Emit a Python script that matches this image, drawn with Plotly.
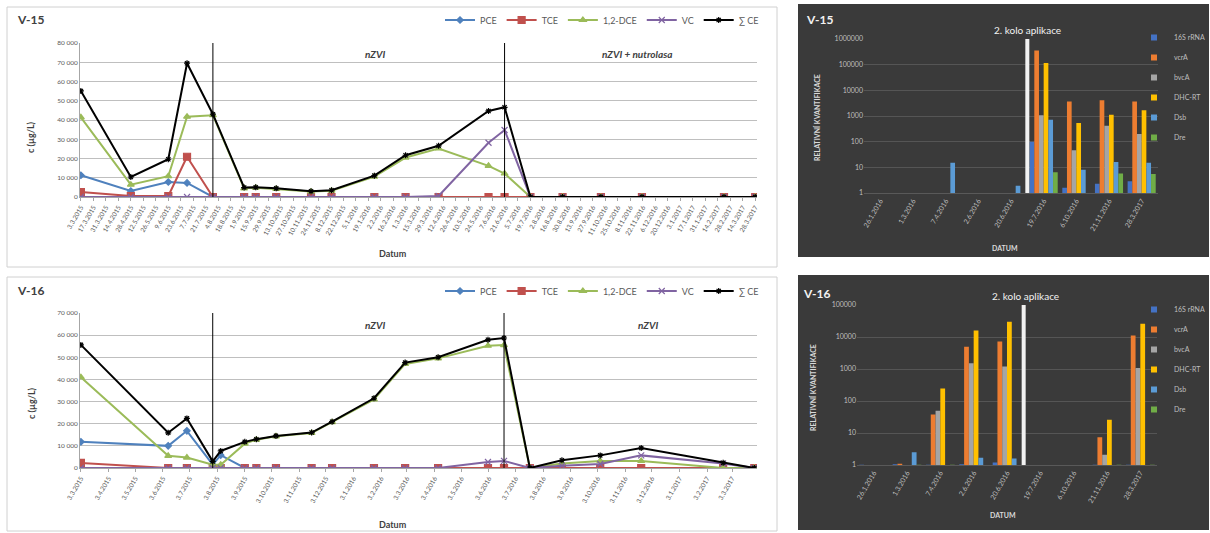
import pandas as pd
import plotly.graph_objects as go

W, H = 1210, 533

# ---------------- DATA ----------------
series_names = ["PCE", "TCE", "1,2-DCE", "VC", "∑ CE"]

dates_v15 = ["3.3.2015", "28.4.2015", "9.6.2015", "30.6.2015", "29.7.2015", "2.9.2015", "15.9.2015",
             "8.10.2015", "16.11.2015", "9.12.2015", "26.1.2016", "1.3.2016", "7.4.2016", "2.6.2016",
             "20.6.2016", "19.7.2016", "24.8.2016", "6.10.2016", "21.11.2016", "21.2.2017", "28.3.2017"]
pce_v15 = [11300, 3100, 7800, 7300, 0, 0, 0, 0, 0, 0, 0, 0, 0, 0, 0, 0, 0, 0, 0, 0, 0]
tce_v15 = [2600, 500, 500, 20900, 0, 0, 0, 0, 0, 0, 0, 0, 0, 0, 0, 0, 0, 0, 0, 0, 0]
dce_v15 = [41400, 6400, 10800, 41700, 42500, 4500, 4800, 4200, 2800, 3300, 10600, 20500, 25200, 16200,
           12200, 0, 0, 0, 0, 0, 0]
vc_v15 = [0, 0, 0, 0, 0, 0, 0, 0, 0, 0, 0, 0, 500, 28200, 34800, 0, 0, 0, 0, 0, 0]
sum_v15 = [55100, 10400, 19600, 69500, 43000, 4900, 5000, 4500, 3000, 3500, 11100, 21700, 26600, 44700,
           46600, 0, 0, 0, 0, 0, 0]

dates_v16 = ["3.3.2015", "9.6.2015", "30.6.2015", "29.7.2015", "7.8.2015", "3.9.2015", "16.9.2015",
             "8.10.2015", "17.11.2015", "10.12.2015", "26.1.2016", "1.3.2016", "7.4.2016", "2.6.2016",
             "20.6.2016", "19.7.2016", "24.8.2016", "6.10.2016", "21.11.2016", "21.2.2017", "28.3.2017"]
pce_v16 = [11800, 10000, 16800, 1500, 5800, 0, 0, 0, 0, 0, 0, 0, 0, 0, 0, 0, 0, 0, 0, 0, 0]
tce_v16 = [2300, 0, 0, 0, 0, 0, 0, 0, 0, 0, 0, 0, 0, 0, 0, 0, 0, 0, 0, 0, 0]
dce_v16 = [41000, 5500, 4700, 1500, 1500, 11000, 12800, 14300, 15800, 20700, 31000, 47000, 49500, 55200,
           55500, 0, 2000, 3200, 3200, 0, 0]
vc_v16 = [0, 0, 0, 0, 0, 0, 0, 0, 0, 0, 0, 0, 0, 2700, 3200, 0, 1000, 1800, 5700, 2000, 0]
sum_v16 = [55600, 15900, 22400, 3000, 7700, 11800, 13000, 14500, 16000, 20900, 31500, 47600, 50000, 57900,
           58700, 0, 3500, 5700, 9000, 2400, 0]

app_dates_v15 = ["29.7.2015", "20.6.2016"]
app_dates_v16 = ["29.7.2015", "20.6.2016"]

qpcr_dates = ["26.1.2016", "1.3.2016", "7.4.2016", "2.6.2016", "20.6.2016", "19.7.2016", "6.10.2016",
              "21.11.2016", "28.3.2017"]
gene_names = ["16S rRNA", "vcrA", "bvcA", "DHC-RT", "Dsb", "Dre"]

q15_16s = [None, None, None, None, None, 100, 1.6, 2.3, 2.9]
q15_vcra = [None, None, None, None, None, 360000, 3700, 4100, 3700]
q15_bvca = [None, None, None, None, None, 1070, 46, 420, 200]
q15_dhc = [None, None, None, None, None, 116000, 530, 1130, 1660]
q15_dsb = [None, None, 15, None, 1.9, 720, 8.1, 16, 15]
q15_dre = [None, None, None, None, None, 6.4, None, 5.7, 5.5]

q16_16s = [1.02, 1.05, 1.02, 1.05, 1.2, None, None, 1.02, 1.02]
q16_vcra = [None, 1.1, 38, 5000, 7200, None, None, 7.4, 11200]
q16_bvca = [None, None, 50, 1500, 1200, None, None, 2.1, 1070]
q16_dhc = [None, None, 245, 16000, 30000, None, None, 26, 26000]
q16_dsb = [None, 2.5, None, 1.7, 1.6, None, None, None, None]
q16_dre = [None, 1.02, 1.02, None, None, None, None, 1.02, 1.02]

# ---------------- STYLE ----------------
FONT = "Lato"
line_colors = ["#4F81BD", "#C0504D", "#9BBB59", "#8064A2", "#000000"]
line_symbols = ["diamond", "square", "triangle-up", "x-thin-open", "asterisk-open"]
line_msize = [5, 7, 6, 6, 5]
bar_colors = ["#4472C4", "#ED7D31", "#A5A5A5", "#FFC000", "#5B9BD5", "#70AD47"]


def px(x):
    return x / W


def py(y):
    return 1 - y / H


def to_dt(lst):
    return pd.to_datetime(lst, format="%d.%m.%Y")


fig = go.Figure()

# line charts
for (dates, cols, xa, ya, lg) in [
    (dates_v15, [pce_v15, tce_v15, dce_v15, vc_v15, sum_v15], "x", "y", "legend"),
    (dates_v16, [pce_v16, tce_v16, dce_v16, vc_v16, sum_v16], "x2", "y2", "legend2"),
]:
    d = to_dt(dates)
    for i, name in enumerate(series_names):
        fig.add_trace(go.Scatter(
            x=d, y=cols[i], name=name, mode="lines+markers",
            line=dict(color=line_colors[i], width=2),
            marker=dict(symbol=line_symbols[i], size=line_msize[i], color=line_colors[i],
                        line=dict(color=line_colors[i], width=1.2)),
            xaxis=xa, yaxis=ya, legend=lg))

# bar charts (legend shown through small square markers like the original)
for (vals, xa, ya, lg) in [
    ([q15_16s, q15_vcra, q15_bvca, q15_dhc, q15_dsb, q15_dre], "x3", "y3", "legend3"),
    ([q16_16s, q16_vcra, q16_bvca, q16_dhc, q16_dsb, q16_dre], "x4", "y4", "legend4"),
]:
    for i, name in enumerate(gene_names):
        fig.add_trace(go.Bar(
            x=qpcr_dates, y=vals[i], name=name, marker_color=bar_colors[i],
            marker_line_width=0, xaxis=xa, yaxis=ya, showlegend=False))
    for i, name in enumerate(gene_names):
        fig.add_trace(go.Scatter(
            x=[None], y=[None], name=name, mode="markers",
            marker=dict(symbol="square", size=6, color=bar_colors[i]),
            xaxis=xa, yaxis=ya, legend=lg, legendgroup=name + lg))

shapes = []
# panel backgrounds
shapes.append(dict(type="rect", xref="paper", yref="paper", x0=px(7), x1=px(777), y0=py(267), y1=py(7),
                   line=dict(color="#D0D0D0", width=1), fillcolor="white", layer="below"))
shapes.append(dict(type="rect", xref="paper", yref="paper", x0=px(7), x1=px(777), y0=py(531), y1=py(277),
                   line=dict(color="#D0D0D0", width=1), fillcolor="white", layer="below"))
shapes.append(dict(type="rect", xref="paper", yref="paper", x0=px(798), x1=px(1209), y0=py(257), y1=py(4),
                   line=dict(width=0), fillcolor="#3A3A3A", layer="below"))
shapes.append(dict(type="rect", xref="paper", yref="paper", x0=px(798), x1=px(1209), y0=py(530), y1=py(275),
                   line=dict(width=0), fillcolor="#3A3A3A", layer="below"))

# application lines
for dstr in app_dates_v15:
    t = to_dt([dstr])[0]
    shapes.append(dict(type="line", xref="x", yref="y domain", x0=t, x1=t,
                       y0=0, y1=1, line=dict(color="black", width=1)))
for dstr in app_dates_v16:
    t = to_dt([dstr])[0]
    shapes.append(dict(type="line", xref="x2", yref="y2 domain", x0=t, x1=t,
                       y0=0, y1=1, line=dict(color="black", width=1)))
# second-round marker in bar charts (between 20.6.2016 and 19.7.2016)
boundary = qpcr_dates.index("19.7.2016") - 0.5
shapes.append(dict(type="line", xref="x3", yref="y3 domain", x0=boundary, x1=boundary, y0=0, y1=1,
                   line=dict(color="#F2F2F2", width=4)))
shapes.append(dict(type="line", xref="x4", yref="y4 domain", x0=boundary, x1=boundary, y0=0, y1=1,
                   line=dict(color="#F2F2F2", width=4)))

ann = []


def add_text(x, y, text, size=10, color="#404040", bold=False, italic=False, angle=0, xanchor="center"):
    t = text
    if bold:
        t = "<b>" + t + "</b>"
    if italic:
        t = "<i>" + t + "</i>"
    ann.append(dict(x=px(x), y=py(y), xref="paper", yref="paper", text=t, showarrow=False,
                    font=dict(size=size, color=color, family=FONT), textangle=angle,
                    xanchor=xanchor, yanchor="middle"))


add_text(15, 20, "V-15", size=12, color="#404040", bold=True, xanchor="left")
add_text(15, 290, "V-16", size=12, color="#404040", bold=True, xanchor="left")
add_text(375, 54, "nZVI", size=10, bold=True, italic=True)
add_text(637, 54, "nZVI + nutrolasa", size=10, bold=True, italic=True)
add_text(375, 325, "nZVI", size=10, bold=True, italic=True)
add_text(648, 325, "nZVI", size=10, bold=True, italic=True)
add_text(31, 137, "c (µg/L)", size=9, bold=True, angle=-90)
add_text(31, 403, "c (µg/L)", size=9, bold=True, angle=-90)
add_text(393, 253, "Datum", size=9, bold=True)
add_text(393, 524, "Datum", size=9, bold=True)

add_text(804, 20, "V-15", size=12, color="#F2F2F2", bold=True, xanchor="left")
add_text(801, 293, "V-16", size=12, color="#F2F2F2", bold=True, xanchor="left")
add_text(1027, 30, "2. kolo aplikace", size=10, color="#F2F2F2")
add_text(1025, 296, "2. kolo aplikace", size=10, color="#F2F2F2")
add_text(817, 118, "RELATIVNÍ KVANTIFIKACE", size=7, color="#D9D9D9", bold=True, angle=-90)
add_text(813, 388, "RELATIVNÍ KVANTIFIKACE", size=7, color="#D9D9D9", bold=True, angle=-90)
add_text(1005, 248, "DATUM", size=7, color="#D9D9D9", bold=True)
add_text(1003, 515, "DATUM", size=7, color="#D9D9D9", bold=True)

line_x = dict(type="date", tickformat="%-d.%-m.%Y", tickangle=-60, tickfont=dict(size=6.5, color="#595959"),
              showgrid=False, showline=True, linecolor="#A6A6A6", ticks="outside", ticklen=3,
              tickcolor="#A6A6A6", zeroline=False, automargin=False)
line_y = dict(tickformat=",d", tickfont=dict(size=6.5, color="#595959"), showgrid=True, gridcolor="#BFBFBF",
              gridwidth=1, showline=True, linecolor="#A6A6A6", zeroline=False, ticks="", dtick=10000,
              automargin=False)

bar_x = dict(type="category", tickangle=-60, tickfont=dict(size=7, color="#BFBFBF"), showgrid=False,
             showline=True, linecolor="#595959", ticks="", automargin=False)
bar_y = dict(type="log", tickfont=dict(size=7, color="#BFBFBF"), showgrid=True, gridcolor="#555555",
             gridwidth=1, showline=False, zeroline=False, dtick=1, tickformat="d", automargin=False)

line_legend = dict(orientation="h", xanchor="left", yanchor="middle",
                   font=dict(size=9, color="#595959"), itemwidth=30, bgcolor="rgba(0,0,0,0)")
bar_legend = dict(orientation="v", xanchor="left", yanchor="top",
                  font=dict(size=7, color="#BFBFBF"), tracegroupgap=1, itemwidth=30,
                  bgcolor="rgba(0,0,0,0)")

fig.update_layout(
    template="none",
    width=W, height=H, margin=dict(l=0, r=0, t=0, b=0),
    paper_bgcolor="white", plot_bgcolor="rgba(0,0,0,0)",
    font=dict(family=FONT), separators=", ",
    barmode="group", bargap=0.14, bargroupgap=0,
    xaxis=dict(line_x, domain=[px(80), px(757)], anchor="y",
               range=[pd.Timestamp("2015-03-02"), pd.Timestamp("2017-03-30")],
               tick0="2015-03-03", dtick=14 * 86400000),
    yaxis=dict(line_y, domain=[py(197), py(43)], anchor="x", range=[0, 80000]),
    xaxis2=dict(line_x, domain=[px(80), px(757)], anchor="y2",
                range=[pd.Timestamp("2015-03-02"), pd.Timestamp("2017-03-31")],
                tick0="2015-03-03", dtick="M1"),
    yaxis2=dict(line_y, domain=[py(468), py(313)], anchor="x2", range=[0, 70000]),
    xaxis3=dict(bar_x, domain=[px(864), px(1158)], anchor="y3"),
    yaxis3=dict(bar_y, domain=[py(193), py(39)], anchor="x3", range=[0, 6]),
    xaxis4=dict(bar_x, domain=[px(857), px(1157)], anchor="y4"),
    yaxis4=dict(bar_y, domain=[py(465), py(305)], anchor="x4", range=[0, 5]),
    legend=dict(line_legend, x=px(440), y=py(20)),
    legend2=dict(line_legend, x=px(440), y=py(291)),
    legend3=dict(bar_legend, x=px(1134), y=py(23)),
    legend4=dict(bar_legend, x=px(1134), y=py(295)),
    shapes=shapes, annotations=ann,
)

fig.write_html("out.html", config={"displayModeBar": False},
               post_script="document.body.style.margin='0';document.body.style.overflow='hidden';")
